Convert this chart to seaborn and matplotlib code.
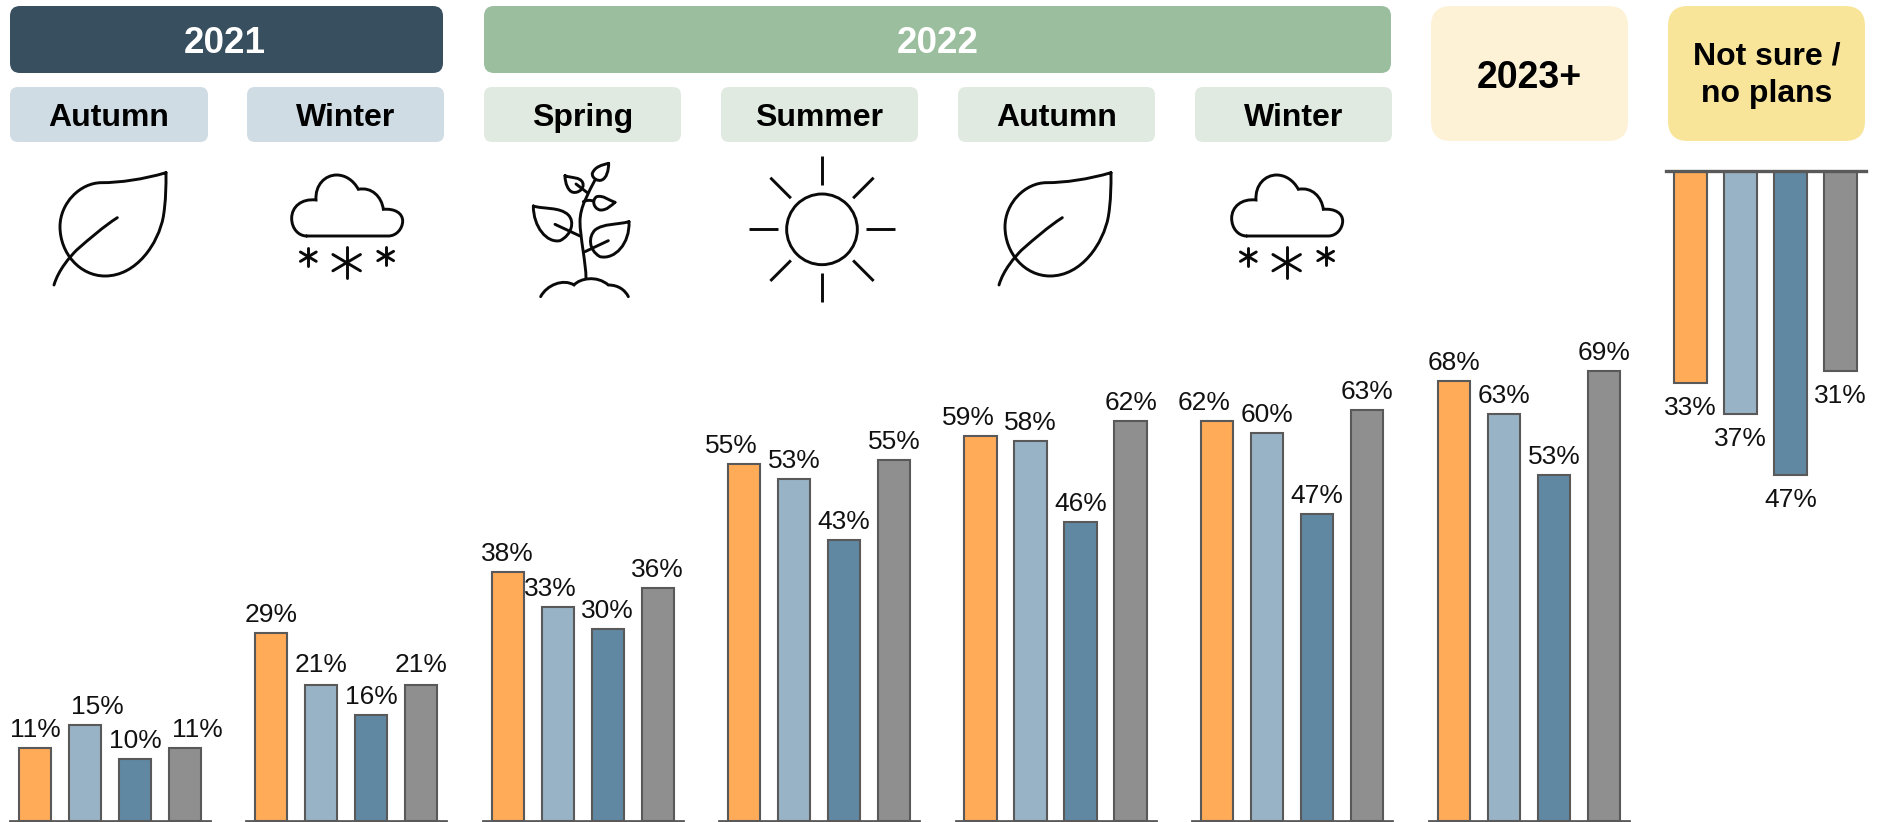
import numpy as np
import pandas as pd
import seaborn as sns
import matplotlib
matplotlib.use("Agg")
import matplotlib.pyplot as plt
from matplotlib.patches import FancyBboxPatch, PathPatch, Circle
from matplotlib.path import Path

sns.set_theme(style="white")
plt.rcParams['font.family'] = ['Liberation Sans', 'DejaVu Sans']

# data (share of respondents, %)
groups = ["A", "B", "C", "D"]
autumn_21 = [11.2, 14.7, 9.5, 11.2]
winter_21 = [28.9, 20.8, 16.2, 20.8]
spring_22 = [38.2, 32.9, 29.5, 35.7]
summer_22 = [54.9, 52.6, 43.1, 55.4]
autumn_22 = [59.2, 58.4, 45.9, 61.5]
winter_22 = [61.5, 59.6, 47.2, 63.1]
later_23 = [67.6, 62.6, 53.2, 69.2]
not_sure = [32.6, 37.4, 46.8, 30.7]
panels = [autumn_21, winter_21, spring_22, summer_22, autumn_22, winter_22, later_23, not_sure]

colors = ["#FFAB57", "#99B3C6", "#6088A3", "#8F8F8F"]
edge = "#595959"

W, H = 1878, 822
PX_PER_PCT = 6.5
TOP, BASE = 171, 820.5
lefts = [10, 246, 482.8, 719, 955.7, 1192, 1429, 1665.5]
# hand placed labels in the original (px)
nudge = {(0, 1): 12.5, (0, 3): 12, (2, 1): -7, (3, 0): -12.3, (4, 0): -12.3, (5, 0): -12.7}
lift = {(1, 1): 2.5, (1, 3): 2.5}

fig = plt.figure(figsize=(W / 100, H / 100), dpi=100, facecolor="white")

# bars
for i, vals in enumerate(panels):
    ax = fig.add_axes([lefts[i] / W, 1 - BASE / H, 200 / W, (BASE - TOP) / H])
    ax.patch.set_alpha(0)
    df = pd.DataFrame({"group": groups, "share": vals})
    sns.barplot(data=df, x="group", y="share", hue="group", palette=colors, order=groups,
                hue_order=groups, width=0.65, dodge=False, saturation=1, legend=False,
                edgecolor=edge, linewidth=1.5, ax=ax)
    ax.set_xlim(-0.5, 3.5)
    ax.set_ylim(0, (BASE - TOP) / PX_PER_PCT)
    flip = i == len(panels) - 1
    if flip:
        ax.invert_yaxis()
    sns.despine(ax=ax, left=True, bottom=flip, top=not flip)
    side = "top" if flip else "bottom"
    ax.spines[side].set_visible(True)
    ax.spines[side].set_color(edge)
    ax.spines[side].set_linewidth(2.4 if flip else 2.0)
    ax.set_xticks([])
    ax.set_yticks([])
    ax.set_xlabel("")
    ax.set_ylabel("")
    for j, v in enumerate(vals):
        off = -32 if flip else 11 + lift.get((i, j), 0)
        ax.annotate(f"{round(v)}%", (j, v), xytext=(nudge.get((i, j), 0) * 0.72, off * 0.72),
                    textcoords="offset points", ha="center", va="baseline",
                    fontsize=19, color="#111111")

# headers and icons live on one overlay in pixel coordinates
ov = fig.add_axes([0, 0, 1, 1], zorder=-1)
ov.set_xlim(0, W)
ov.set_ylim(H, 0)
ov.axis("off")


def box(x0, x1, y0, y1, color, r):
    ov.add_patch(FancyBboxPatch((x0, y0), x1 - x0, y1 - y0, boxstyle=f"round,pad=0,rounding_size={r}",
                                facecolor=color, edgecolor="none"))


box(10, 443, 6, 73, "#374F5F", 10)
box(484, 1391, 6, 73, "#9BBE9E", 10)
box(1431, 1628, 6, 141, "#FDF2D6", 20)
box(1668, 1865, 6, 141, "#F8E59A", 20)
ov.text(225, 52.7, "2021", color="white", fontsize=26.5, fontweight="bold", ha="center", va="baseline")
ov.text(937.5, 52.7, "2022", color="white", fontsize=26.5, fontweight="bold", ha="center", va="baseline")
ov.text(1529, 88.3, "2023+", color="black", fontsize=27, fontweight="bold", ha="center", va="baseline")
ov.text(1767, 75, "Not sure /\nno plans", color="black", fontsize=23, fontweight="bold", ha="center",
        va="center", linespacing=1.32)

seasons = ["Autumn", "Winter", "Spring", "Summer", "Autumn", "Winter"]
sub_x = [(10, 208), (247, 444), (484, 681), (721, 918), (958, 1155), (1195, 1392)]
for k, (name, (x0, x1)) in enumerate(zip(seasons, sub_x)):
    box(x0, x1, 87, 142, "#D0DCE4" if k < 2 else "#E1EAE1", 8)
    ov.text((x0 + x1) / 2, 126, name, color="black", fontsize=23, fontweight="bold",
            ha="center", va="baseline")


def curve(ox, oy, start, *segs):
    verts = [start]
    codes = [Path.MOVETO]
    for s in segs:
        verts += list(s)
        codes += [Path.CURVE4] * 3 if len(s) == 3 else [Path.LINETO]
    verts = [(ox + u / 3, oy + v / 3) for u, v in verts]
    ov.add_patch(PathPatch(Path(verts, codes), fill=False, edgecolor="#0a0a0a", lw=2.1, capstyle="round"))


def leaf(dx):
    ox, oy = 30 + dx, 150
    curve(ox, oy, (408, 68), ((340, 88), (270, 98), (215, 98)), ((150, 98), (90, 160), (90, 230)),
          ((90, 310), (150, 378), (225, 378)), ((320, 378), (385, 280), (400, 200)),
          ((408, 150), (408, 110), (408, 68)))
    curve(ox, oy, (72, 405), ((85, 360), (120, 320), (140, 300)), ((180, 265), (220, 230), (262, 203)))


def star(ox, oy, u, v, r):
    curve(ox, oy, (u, v - r), [(u, v + r)])
    curve(ox, oy, (u - r * 0.88, v - r * 0.52), [(u + r * 0.88, v + r * 0.52)])
    curve(ox, oy, (u - r * 0.88, v + r * 0.52), [(u + r * 0.88, v - r * 0.52)])


def cloud(dx):
    ox, oy = 30 + dx, 150
    curve(ox, oy, (830, 258), [(1075, 258)], ((1100, 258), (1118, 235), (1118, 213)),
          ((1118, 190), (1095, 175), (1060, 178)), ((1055, 140), (1025, 110), (985, 118)),
          ((970, 90), (945, 75), (920, 75)), ((885, 75), (855, 105), (858, 150)),
          ((815, 145), (785, 170), (785, 205)), ((785, 235), (805, 258), (830, 258)))
    star(ox, oy, 835, 320, 27)
    star(ox, oy, 950, 338, 47)
    star(ox, oy, 1067, 318, 27)


def sprout():
    ox, oy = 500, 150
    curve(ox, oy, (258, 385), ((258, 340), (240, 260), (240, 215)), ((240, 170), (265, 130), (285, 90)))
    curve(ox, oy, (250, 155), ((260, 150), (270, 150), (280, 153)))
    curve(ox, oy, (100, 168), ((130, 178), (180, 170), (205, 195)), ((225, 215), (215, 255), (180, 272)),
          ((140, 280), (100, 230), (100, 168)))
    curve(ox, oy, (165, 223), [(240, 258)])
    curve(ox, oy, (387, 215), ((350, 225), (310, 220), (285, 240)), ((265, 260), (265, 300), (300, 320)),
          ((345, 330), (390, 280), (387, 215)))
    curve(ox, oy, (325, 272), [(255, 305)])
    curve(ox, oy, (195, 77), ((215, 85), (240, 80), (248, 98)), ((255, 115), (235, 130), (220, 127)),
          ((205, 125), (195, 100), (195, 77)))
    curve(ox, oy, (228, 102), [(262, 128)])
    curve(ox, oy, (326, 40), ((305, 45), (285, 50), (277, 70)), ((275, 85), (295, 95), (305, 90)),
          ((320, 85), (326, 60), (326, 40)))
    curve(ox, oy, (345, 157), ((325, 150), (310, 135), (290, 140)), ((275, 150), (280, 175), (300, 180)),
          ((320, 182), (335, 165), (345, 157)))
    curve(ox, oy, (122, 440), ((140, 405), (190, 385), (222, 405)), ((240, 385), (290, 375), (325, 405)),
          ((355, 405), (375, 420), (385, 440)))


def sun():
    cx, cy = 500 + 966 / 3, 150 + 238 / 3
    ov.add_patch(Circle((cx, cy), 106 / 3, fill=False, edgecolor="#0a0a0a", lw=2.1))
    for a in np.arange(8) * np.pi / 4:
        ov.plot([cx + 44 * np.cos(a), cx + 73 * np.cos(a)], [cy + 44 * np.sin(a), cy + 73 * np.sin(a)],
                color="#0a0a0a", lw=2.1, solid_capstyle="butt")


leaf(0)
leaf(945)
cloud(0)
cloud(940)
sprout()
sun()

fig.savefig("out.png", dpi=100)
